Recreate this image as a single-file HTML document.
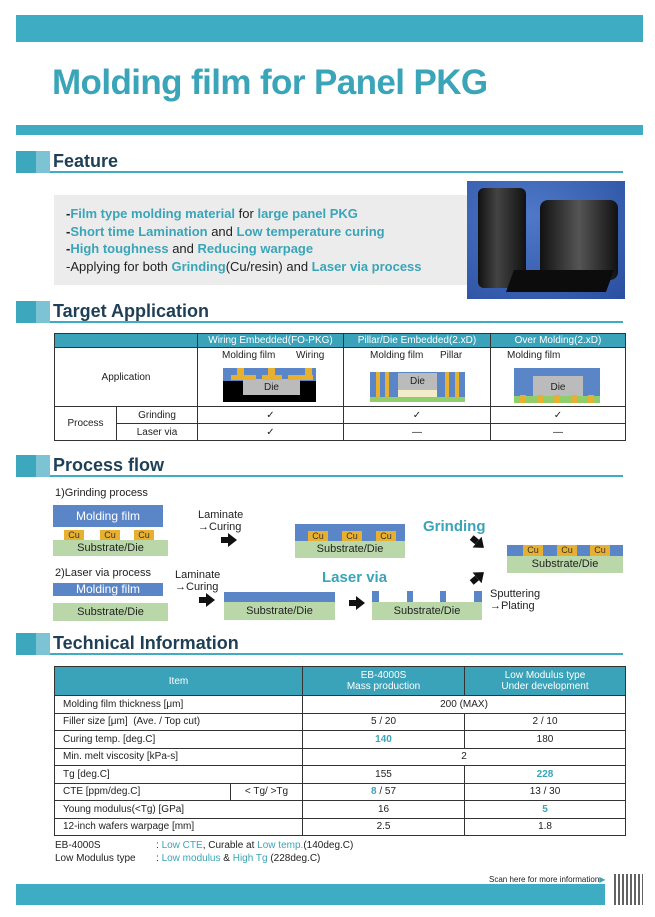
<!DOCTYPE html>
<html><head><meta charset="utf-8"><style>
*{margin:0;padding:0;box-sizing:border-box}
body{width:655px;height:917px;background:#fff;position:relative;overflow:hidden;font-family:"Liberation Sans",sans-serif;color:#222}
.a{position:absolute}
.t{color:#3aa5b8}
.bar{background:#3eacc2}
.hd{position:absolute;left:16px;width:607px;height:22px}
.hd .s1{position:absolute;left:0;top:0;width:20px;height:22px;background:#3da7bd}
.hd .s2{position:absolute;left:20px;top:0;width:14px;height:22px;background:#7cc3d3}
.hd .ln{position:absolute;left:34px;right:0;bottom:0;height:2px;background:#3eacc2}
.hd span{position:absolute;left:37px;top:0;font-size:18px;font-weight:bold;color:#1e3f55}
table{border-collapse:collapse;position:absolute;font-size:10px;table-layout:fixed}
td,th{border:1px solid #333;text-align:center;font-weight:normal;padding:0}
th{background:#3aa3ba;color:#fff}
.blue{background:#5a86c8}.grn{background:#b9d7a8}.cu{background:#e8b030;font-size:9px;text-align:center;line-height:10px;color:#333}
.lb{font-size:11px;line-height:12px}
.arr{position:absolute;width:0;height:0;border-left:9px solid #111;border-top:7px solid transparent;border-bottom:7px solid transparent}
.arr:before{content:"";position:absolute;left:-16px;top:-3px;width:7px;height:6px;background:#111}
</style></head><body>
<div class="a bar" style="left:16px;top:15px;width:627px;height:27px"></div>
<div class="a t" style="left:52px;top:63px;font-size:35px;font-weight:bold;letter-spacing:-0.6px">Molding film for Panel PKG</div>
<div class="a bar" style="left:16px;top:125px;width:627px;height:10px"></div>

<div class="hd" style="top:151px"><div class="s1"></div><div class="s2"></div><div class="ln"></div><span>Feature</span></div>
<div class="a" style="left:54px;top:195px;width:416px;height:90px;background:#ececec"></div>
<div class="a" style="left:467px;top:181px;width:158px;height:118px;background:radial-gradient(ellipse at 40% 30%,#4f78c8,#2a4fa0)"></div>
<div class="a" style="left:478px;top:188px;width:48px;height:100px;background:linear-gradient(90deg,#111,#444 40%,#111);border-radius:6px"></div>
<div class="a" style="left:540px;top:200px;width:78px;height:80px;background:linear-gradient(90deg,#111,#555 50%,#111);border-radius:8px"></div>
<div class="a" style="left:510px;top:270px;width:100px;height:22px;background:#0c0c0c;transform:skewX(-20deg)"></div>
<div class="a" style="left:66px;top:205px;font-size:13px;line-height:17.5px;font-weight:bold">
<div>-<span class="t">Film type molding material</span> <span style="font-weight:normal">for</span> <span class="t">large panel PKG</span></div>
<div>-<span class="t">Short time Lamination</span> <span style="font-weight:normal">and</span> <span class="t">Low temperature curing</span></div>
<div>-<span class="t">High toughness</span> <span style="font-weight:normal">and</span> <span class="t">Reducing warpage</span></div>
<div style="font-weight:normal">-Applying for both <b class="t">Grinding</b>(Cu/resin) and <b class="t">Laser via process</b></div>
</div>

<div class="hd" style="top:301px"><div class="s1"></div><div class="s2"></div><div class="ln"></div><span>Target Application</span></div>
<table style="left:54px;top:333px;width:571px">
<colgroup><col style="width:62px"><col style="width:81px"><col style="width:146px"><col style="width:147px"><col style="width:135px"></colgroup>
<tr style="height:14px"><th colspan="2"></th><th>Wiring Embedded(FO-PKG)</th><th>Pillar/Die Embedded(2.xD)</th><th>Over Molding(2.xD)</th></tr>
<tr style="height:59px"><td colspan="2">Application</td><td></td><td></td><td></td></tr>
<tr style="height:17px"><td rowspan="2">Process</td><td>Grinding</td><td>✓</td><td>✓</td><td>✓</td></tr>
<tr style="height:17px"><td>Laser via</td><td>✓</td><td>—</td><td>—</td></tr>
</table>
<!-- app diagrams -->
<div class="a" style="left:222px;top:350px;font-size:10px">Molding film</div><div class="a" style="left:296px;top:350px;font-size:10px">Wiring</div>
<div class="a blue" style="left:223px;top:368px;width:93px;height:13px"></div>
<div class="a" style="left:223px;top:381px;width:93px;height:21px;background:#000"></div>
<div class="a" style="left:243px;top:379px;width:57px;height:16px;background:#bbb;font-size:10px;text-align:center;line-height:18px">Die</div>
<div class="a cu" style="left:231px;top:375px;width:25px;height:5px"></div><div class="a cu" style="left:237px;top:368px;width:7px;height:8px"></div>
<div class="a cu" style="left:262px;top:375px;width:20px;height:5px"></div><div class="a cu" style="left:268px;top:368px;width:7px;height:8px"></div>
<div class="a cu" style="left:288px;top:375px;width:25px;height:5px"></div><div class="a cu" style="left:305px;top:368px;width:7px;height:8px"></div>
<div class="a" style="left:370px;top:350px;font-size:10px">Molding film</div><div class="a" style="left:440px;top:350px;font-size:10px">Pillar</div>
<div class="a blue" style="left:370px;top:372px;width:95px;height:25px"></div>
<div class="a grn" style="left:370px;top:397px;width:95px;height:5px;background:#8fce6a"></div>
<div class="a" style="left:398px;top:373px;width:39px;height:17px;background:#bbb;font-size:10px;text-align:center;line-height:17px">Die</div>
<div class="a" style="left:398px;top:390px;width:39px;height:7px;background:#f2edc8"></div>
<div class="a cu" style="left:376px;top:372px;width:4px;height:25px"></div><div class="a cu" style="left:385px;top:372px;width:4px;height:25px"></div><div class="a cu" style="left:445px;top:372px;width:4px;height:25px"></div><div class="a cu" style="left:455px;top:372px;width:4px;height:25px"></div>
<div class="a" style="left:507px;top:350px;font-size:10px">Molding film</div>
<div class="a blue" style="left:514px;top:368px;width:86px;height:30px"></div>
<div class="a grn" style="left:514px;top:396px;width:86px;height:7px;background:#8fce6a"></div>
<div class="a" style="left:533px;top:376px;width:50px;height:20px;background:#bbb;font-size:10px;text-align:center;line-height:24px">Die</div>
<div class="a cu" style="left:520px;top:395px;width:6px;height:8px"></div><div class="a cu" style="left:537px;top:395px;width:6px;height:8px"></div><div class="a cu" style="left:554px;top:395px;width:6px;height:8px"></div><div class="a cu" style="left:571px;top:395px;width:6px;height:8px"></div><div class="a cu" style="left:588px;top:395px;width:6px;height:8px"></div>

<div class="hd" style="top:455px"><div class="s1"></div><div class="s2"></div><div class="ln"></div><span>Process flow</span></div>
<div class="a lb" style="left:55px;top:487px">1)Grinding process</div>
<div class="a blue" style="left:53px;top:505px;width:110px;height:22px;color:#fff;font-size:12px;text-align:center;line-height:22px">Molding film</div>
<div class="a cu" style="left:64px;top:530px;width:20px;height:10px">Cu</div><div class="a cu" style="left:100px;top:530px;width:20px;height:10px">Cu</div><div class="a cu" style="left:134px;top:530px;width:20px;height:10px">Cu</div>
<div class="a grn lb" style="left:53px;top:540px;width:115px;height:16px;text-align:center;line-height:16px">Substrate/Die</div>
<div class="a lb" style="left:198px;top:509px">Laminate<br>→Curing</div>
<div class="arr" style="left:228px;top:533px"></div>
<div class="a blue" style="left:295px;top:524px;width:110px;height:17px"></div>
<div class="a cu" style="left:308px;top:531px;width:20px;height:10px">Cu</div><div class="a cu" style="left:342px;top:531px;width:20px;height:10px">Cu</div><div class="a cu" style="left:376px;top:531px;width:20px;height:10px">Cu</div>
<div class="a grn lb" style="left:295px;top:541px;width:110px;height:17px;text-align:center;line-height:17px">Substrate/Die</div>
<div class="a t" style="left:423px;top:518px;font-size:15px;font-weight:bold">Grinding</div>
<div class="arr" style="left:476px;top:538px;transform:rotate(40deg)"></div>
<div class="a blue" style="left:507px;top:545px;width:116px;height:11px"></div>
<div class="a cu" style="left:523px;top:545px;width:20px;height:11px">Cu</div><div class="a cu" style="left:557px;top:545px;width:20px;height:11px">Cu</div><div class="a cu" style="left:590px;top:545px;width:20px;height:11px">Cu</div>
<div class="a grn lb" style="left:507px;top:556px;width:116px;height:17px;text-align:center;line-height:17px">Substrate/Die</div>
<div class="a lb" style="left:55px;top:567px">2)Laser via process</div>
<div class="a blue" style="left:53px;top:583px;width:110px;height:13px;color:#fff;font-size:12px;text-align:center;line-height:13px">Molding film</div>
<div class="a grn lb" style="left:53px;top:603px;width:115px;height:18px;text-align:center;line-height:18px">Substrate/Die</div>
<div class="a lb" style="left:175px;top:569px">Laminate<br>→Curing</div>
<div class="arr" style="left:206px;top:593px"></div>
<div class="a blue" style="left:224px;top:592px;width:111px;height:10px"></div>
<div class="a grn lb" style="left:224px;top:602px;width:111px;height:18px;text-align:center;line-height:18px">Substrate/Die</div>
<div class="a t" style="left:322px;top:569px;font-size:15px;font-weight:bold">Laser via</div>
<div class="arr" style="left:356px;top:596px"></div>
<div class="a blue" style="left:372px;top:591px;width:7px;height:11px"></div><div class="a blue" style="left:407px;top:591px;width:6px;height:11px"></div><div class="a blue" style="left:440px;top:591px;width:6px;height:11px"></div><div class="a blue" style="left:474px;top:591px;width:8px;height:11px"></div>
<div class="a grn lb" style="left:372px;top:602px;width:110px;height:18px;text-align:center;line-height:18px">Substrate/Die</div>
<div class="arr" style="left:476px;top:568px;transform:rotate(-40deg)"></div>
<div class="a lb" style="left:490px;top:588px">Sputtering<br>→Plating</div>

<div class="hd" style="top:633px"><div class="s1"></div><div class="s2"></div><div class="ln"></div><span>Technical Information</span></div>
<table style="left:54px;top:666px;width:571px;font-size:10px">
<colgroup><col style="width:176px"><col style="width:72px"><col style="width:162px"><col style="width:161px"></colgroup>
<tr style="height:29px"><th colspan="2">Item</th><th style="line-height:11px">EB-4000S<br>Mass production</th><th style="line-height:11px">Low Modulus type<br>Under development</th></tr>
<tr style="height:17.5px"><td colspan="2" style="text-align:left;padding-left:8px">Molding film thickness [μm]</td><td colspan="2">200 (MAX)</td></tr>
<tr style="height:17.5px"><td colspan="2" style="text-align:left;padding-left:8px">Filler size [μm]&nbsp; (Ave. / Top cut)</td><td>5 / 20</td><td>2 / 10</td></tr>
<tr style="height:17.5px"><td colspan="2" style="text-align:left;padding-left:8px">Curing temp. [deg.C]</td><td class="t"><b>140</b></td><td>180</td></tr>
<tr style="height:17.5px"><td colspan="2" style="text-align:left;padding-left:8px">Min. melt viscosity [kPa-s]</td><td colspan="2">2</td></tr>
<tr style="height:17.5px"><td colspan="2" style="text-align:left;padding-left:8px">Tg [deg.C]</td><td>155</td><td class="t"><b>228</b></td></tr>
<tr style="height:17.5px"><td style="text-align:left;padding-left:8px">CTE [ppm/deg.C]</td><td>&lt; Tg/ &gt;Tg</td><td><b class="t">8</b> / 57</td><td>13 / 30</td></tr>
<tr style="height:17.5px"><td colspan="2" style="text-align:left;padding-left:8px">Young modulus(&lt;Tg) [GPa]</td><td>16</td><td class="t"><b>5</b></td></tr>
<tr style="height:17.5px"><td colspan="2" style="text-align:left;padding-left:8px">12-inch wafers warpage [mm]</td><td>2.5</td><td>1.8</td></tr>
</table>
<div class="a" style="left:55px;top:839px;font-size:10px;line-height:13px">EB-4000S<br>Low Modulus type</div>
<div class="a" style="left:156px;top:839px;font-size:10px;line-height:13px">: <span class="t">Low CTE</span>, Curable at <span class="t">Low temp.</span>(140deg.C)<br>: <span class="t">Low modulus</span> &amp; <span class="t">High Tg</span> (228deg.C)</div>
<div class="a" style="left:489px;top:875px;font-size:8px">Scan here for more information<span class="t">▶</span></div>
<div class="a bar" style="left:16px;top:884px;width:589px;height:21px"></div>
<div class="a" style="left:614px;top:874px;width:29px;height:31px;background:repeating-linear-gradient(90deg,#222 0 2px,#fff 2px 4px),#888;opacity:.7"></div>
</body></html>
